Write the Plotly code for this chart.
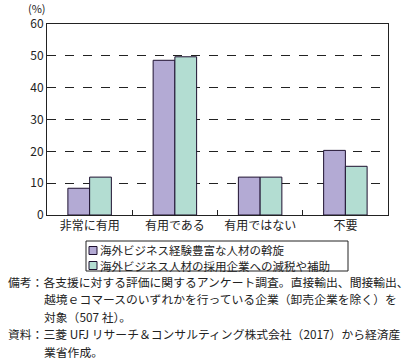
import plotly.graph_objects as go

categories = ["非常に有用", "有用である", "有用ではない", "不要"]
series_names = ["海外ビジネス経験豊富な人材の斡旋", "海外ビジネス人材の採用企業への減税や補助"]
series_colors = ["#b3aad4", "#b3ddd2"]
values_a = [8.4, 48.6, 11.9, 20.3]
values_b = [11.9, 49.7, 11.9, 15.3]
y_ticks = [0, 10, 20, 30, 40, 50, 60]
notes = [
    ("備考：各支援に対する評価に関するアンケート調査。直接輸出、間接輸出、", 7, 281),
    ("越境ｅコマースのいずれかを行っている企業（卸売企業を除く）を", 43, 298.5),
    ("対象（507 社）。", 43, 316),
    ("資料：三菱 UFJ リサーチ＆コンサルティング株式会社（2017）から経済産", 7, 333.5),
    ("業省作成。", 43, 351),
]

W, H = 415, 360
L, R, T, B = 47, 388, 24, 215  # page pixels of plot area
FONT = "Noto Sans CJK JP"
EDGE = "#1e1030"
TXT = "#222"

def px(x):
    return (x - L) / (R - L)

def py(y):
    return (B - y) / (B - T)

fig = go.Figure()
for name, vals, col in [(series_names[0], values_a, series_colors[0]),
                        (series_names[1], values_b, series_colors[1])]:
    fig.add_trace(go.Bar(x=categories, y=vals, name=name,
                         marker=dict(color=col, line=dict(color=EDGE, width=1))))

annotations = [dict(text="(%)", x=px(37), y=py(7.5), xref="paper", yref="paper",
                    showarrow=False, font=dict(size=11, color=TXT), borderpad=0,
                    xanchor="center", yanchor="middle")]
for text, x, y in notes:
    annotations.append(dict(text=text, x=px(x), y=py(y), xref="paper", yref="paper",
                            showarrow=False, xanchor="left", yanchor="middle", borderpad=0,
                            font=dict(size=11.8, color=TXT)))

# legend drawn as a boxed key below the plot
shapes = [dict(type="rect", xref="paper", yref="paper",
               x0=px(86), x1=px(348), y0=py(241), y1=py(271),
               line=dict(color=TXT, width=1), fillcolor="white")]
for i, (name, col) in enumerate(zip(series_names, series_colors)):
    yc = 250.5 + i * 15
    shapes.append(dict(type="rect", xref="paper", yref="paper",
                       x0=px(89), x1=px(97), y0=py(yc - 4), y1=py(yc + 4),
                       line=dict(color=EDGE, width=1), fillcolor=col))
    annotations.append(dict(text=name, x=px(99), y=py(yc), xref="paper", yref="paper",
                            showarrow=False, xanchor="left", yanchor="middle", borderpad=0,
                            font=dict(size=11.5, color=TXT)))

fig.update_layout(
    width=W, height=H,
    margin=dict(l=L, r=W - R, t=T, b=H - B, autoexpand=False, pad=0),
    paper_bgcolor="white", plot_bgcolor="white",
    font=dict(family=FONT, size=12, color=TXT),
    barmode="group", bargap=0.49, bargroupgap=0,
    showlegend=False,
    annotations=annotations,
    shapes=shapes,
)
fig.update_xaxes(showline=True, linecolor=TXT, linewidth=1, mirror=True,
                 ticks="inside", ticklen=5, tickcolor=TXT, tickson="boundaries",
                 showgrid=False, tickfont=dict(size=12))
fig.update_yaxes(range=[0, 60], tickvals=y_ticks, showline=True, linecolor=TXT,
                 linewidth=1, mirror=True, ticks="", showgrid=True, gridcolor=TXT,
                 griddash="dash", gridwidth=1, zeroline=False, tickfont=dict(size=12))

fig.write_html("out.html", config={"displayModeBar": False},
               post_script="document.body.style.margin='0';")
